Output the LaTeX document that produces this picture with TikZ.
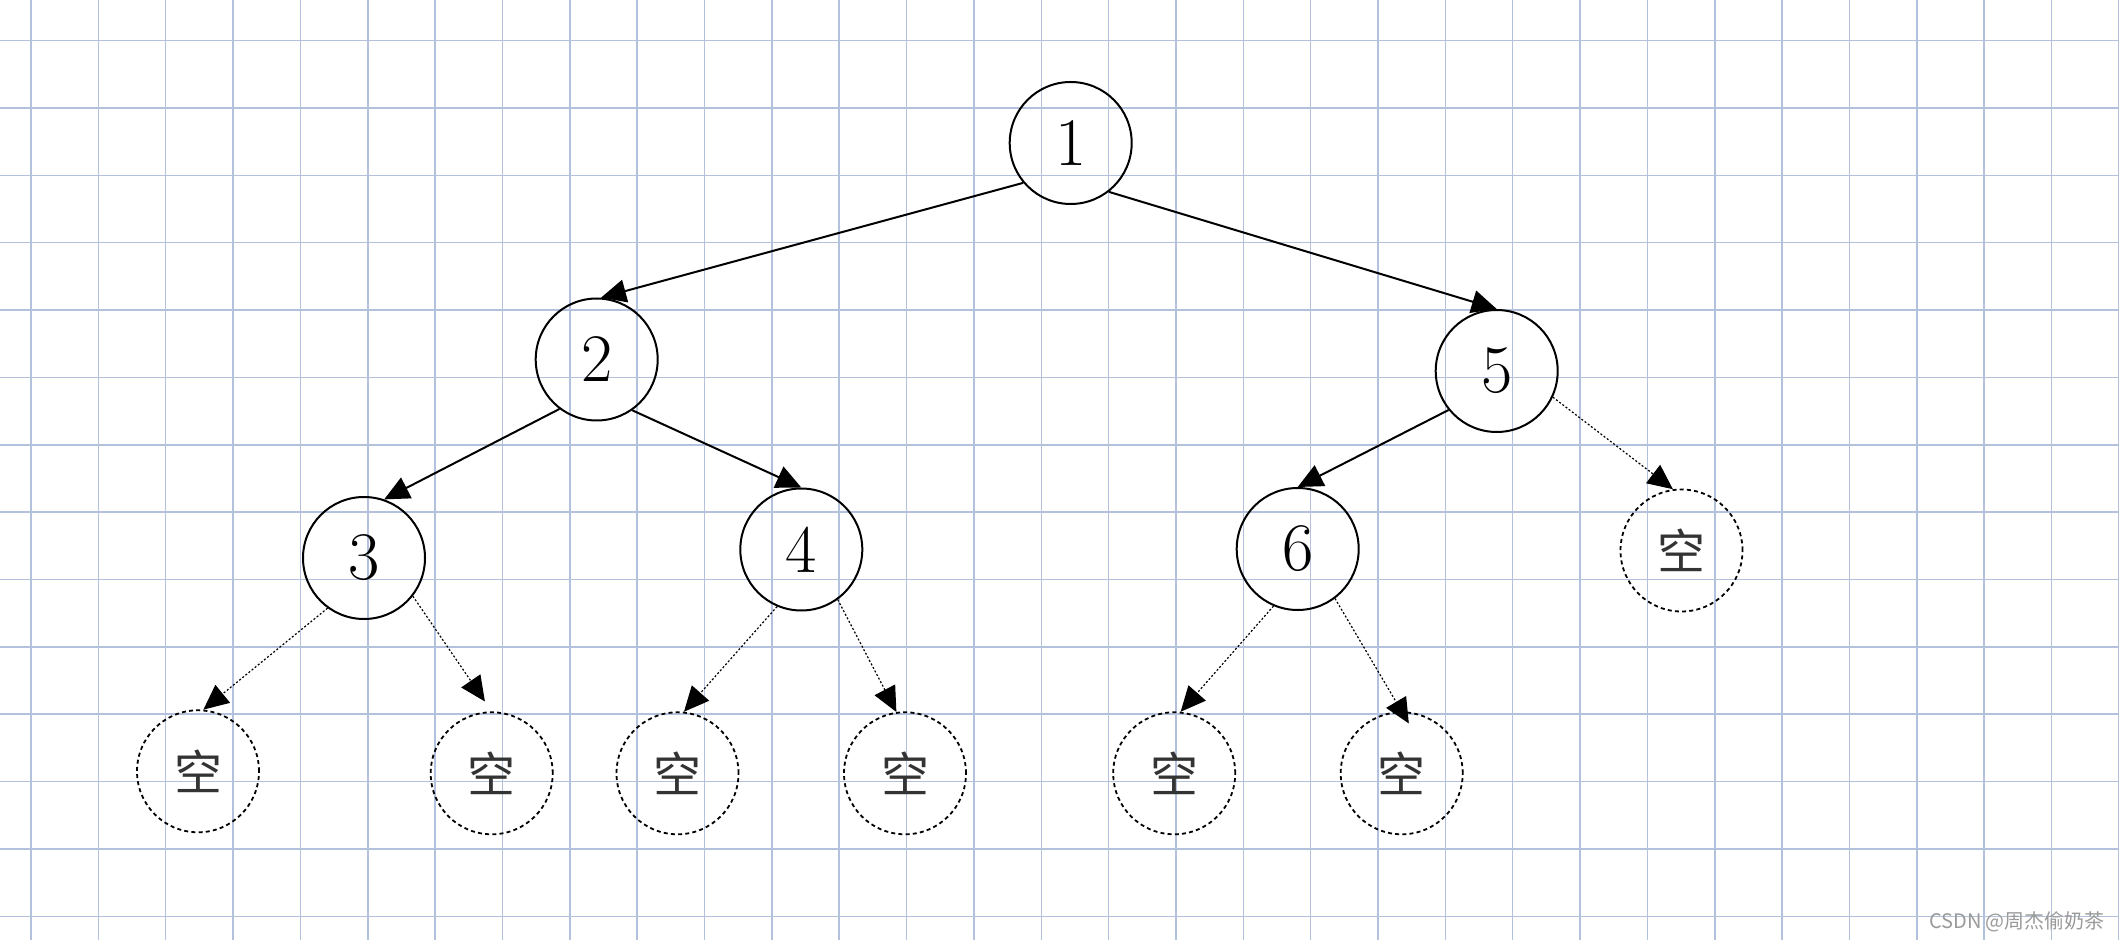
\documentclass[tikz,border=0pt]{standalone}
\usepackage{fontspec}
\newfontfamily\cjk{Noto Sans CJK SC}
\usetikzlibrary{arrows.meta}
\definecolor{gridc}{HTML}{B3C1DC}
\definecolor{wmc}{HTML}{9A9A9A}
\begin{document}
\begin{tikzpicture}[x=0.5pt,y=-0.5pt,
  tnode/.style={circle,draw,line width=1pt,minimum size=61pt,inner sep=0pt,font=\fontsize{34pt}{34pt}\selectfont},
  enode/.style={circle,draw,line width=0.9pt,dash pattern=on 2pt off 1.6pt,minimum size=61pt,inner sep=0pt,text=black!80,font=\cjk\fontsize{24pt}{24pt}\selectfont},
  solidarrow/.style={line width=1pt,-{Triangle[length=12.5pt,width=11.5pt]}},
  dotarrow/.style={line width=0.6pt,dash pattern=on 1pt off 1pt,-{Triangle[length=12.5pt,width=11.5pt]}},
  gridline/.style={gridc,line width=0.75pt}]
\fill[white] (0,0) rectangle (2119,940);
\useasboundingbox (0,0) rectangle (2119,940);
% grid
\foreach \k in {0,...,31} \draw[gridline] ({31+67.35*\k},0) -- ({31+67.35*\k},940);
\foreach \k in {0,...,13} \draw[gridline] (0,{40.7+67.35*\k}) -- (2119,{40.7+67.35*\k});
% tree nodes
\node[tnode] (n1) at (1070.7,143) {1};
\node[tnode] (n2) at (596.7,359.5) {2};
\node[tnode] (n5) at (1496.7,371) {5};
\node[tnode] (n3) at (364,558) {3};
\node[tnode] (n4) at (801.3,549.5) {4};
\node[tnode] (n6) at (1297.7,549) {6};
\node[enode] (e7) at (1681.5,550.5) {空};
\node[enode] (l1) at (198,771.3) {空};
\node[enode] (l2) at (491.7,773.3) {空};
\node[enode] (l3) at (677.5,773.3) {空};
\node[enode] (l4) at (905,773.3) {空};
\node[enode] (l5) at (1174.2,773.3) {空};
\node[enode] (l6) at (1401.7,773.3) {空};
% watermark
\node[text=wmc,font=\cjk\fontsize{10pt}{12pt}\selectfont] (wm) at (2017,922) {CSDN @周杰偷奶茶};
% solid edges
\draw[solidarrow] (n1.220) -- (n2.86);
\draw[solidarrow] (n1.-52) -- (n5.north);
\draw[solidarrow] (n2.233) -- (n3.71);
\draw[solidarrow] (n2.-55) -- (n4.north);
\draw[solidarrow] (n5.219) -- (n6.north);
% dotted edges to empty children
\draw[dotarrow] (n5.-25) -- (e7.98);
\draw[dotarrow] (n3.234) -- (l1.85);
\draw[dotarrow,shorten >=6pt] (n3.-38) -- (l2.north);
\draw[dotarrow] (n4.247) -- (l3.84);
\draw[dotarrow] (n4.-54) -- (l4.98);
\draw[dotarrow] (n6.247) -- (l5.84);
\draw[dotarrow,shorten >=-7pt] (n6.-53.5) -- (l6.north);
\end{tikzpicture}
\end{document}
